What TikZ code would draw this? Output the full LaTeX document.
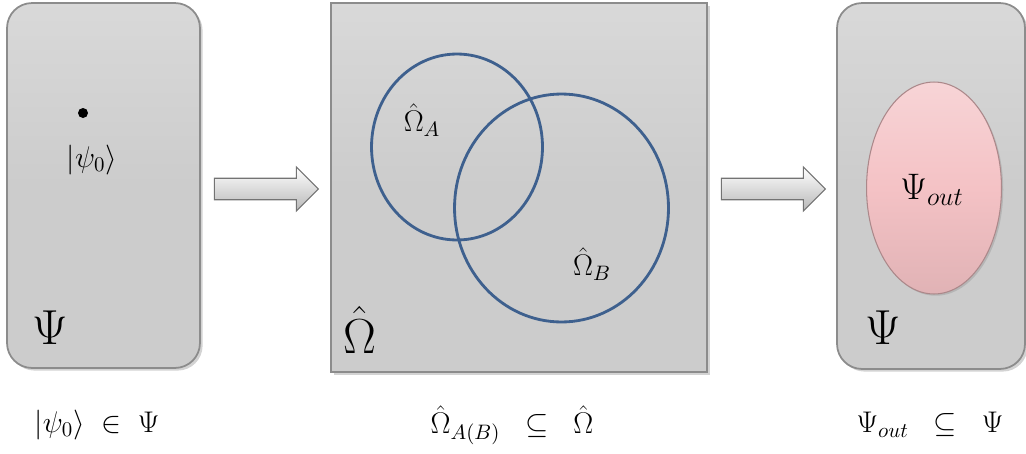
\documentclass[tikz,border=0pt]{standalone}
\usepackage{fix-cm}
\usepackage{amsmath,amssymb}
\definecolor{setblue}{RGB}{62,96,142}
\definecolor{pinkfill}{RGB}{244,194,197}
\definecolor{panelgray}{RGB}{204,204,204}
\usepackage{tikz}
\usetikzlibrary{
  shapes.geometric,
  shapes.arrows,
  shadows,
  positioning
}

\begin{document}
\begin{tikzpicture}[
  x=0.02cm, y=-0.02cm,
  panel/.style={rectangle, draw=black!45, line width=1pt, top color=panelgray!75, bottom color=panelgray, middle color=panelgray, drop shadow={opacity=0.35, shadow xshift=1.5pt, shadow yshift=-1.5pt}},
  roundpanel/.style={panel, rounded corners=0.5cm},
  subset/.style={ellipse, draw=setblue, line width=1.6pt},
  blob/.style={ellipse, draw=pinkfill!70!black, line width=0.6pt, top color=pinkfill!70, bottom color=pinkfill!92!black, middle color=pinkfill, drop shadow={opacity=0.3, shadow xshift=1pt, shadow yshift=-1pt}},
  flow/.style={single arrow, draw=black!55, line width=0.6pt, top color=white, bottom color=black!28, inner xsep=0pt, inner ysep=0.2cm, minimum height=2.08cm, minimum width=0.88cm, single arrow head extend=0.22cm},
  biglbl/.style={font=\fontsize{28}{30}\selectfont},
  lbl/.style={font=\fontsize{17}{19}\selectfont},
  eqlbl/.style={font=\fontsize{17}{19}\selectfont}
]
  \useasboundingbox (0,0) rectangle (1026,453);

  % input space
  \node[roundpanel, minimum width=3.86cm, minimum height=7.3cm] (psi) at (103.5,185.5) {};
  \node[circle, fill=black, inner sep=0pt, minimum size=0.2cm] (psi0dot) at (83,113) {};
  \node[lbl] (psi0) at (92,160) {$\lvert\psi_{0}\rangle$};
  \node[biglbl] (psilbl) at (50,328) {$\Psi$};

  % operator space
  \node[panel, minimum width=7.52cm, minimum height=7.38cm] (omega) at (519,187.5) {};
  \node[subset, minimum width=3.42cm, minimum height=3.72cm] (omegaA) at (457,147) {};
  \node[subset, minimum width=4.28cm, minimum height=4.56cm] (omegaB) at (561.5,208) {};
  \node[lbl] (omegaAlbl) at (422,120) {$\hat{\Omega}_{A}$};
  \node[lbl] (omegaBlbl) at (592,264) {$\hat{\Omega}_{B}$};
  \node[biglbl] (omegalbl) at (360,330) {$\hat{\Omega}$};

  % output space
  \node[roundpanel, minimum width=3.76cm, minimum height=7.32cm] (psiout) at (931,186) {};
  \node[blob, minimum width=2.7cm, minimum height=4.24cm] (outset) at (934,188) {};
  \node[font=\fontsize{21}{23}\selectfont] (outlbl) at (932,190) {$\Psi_{out}$};
  \node[biglbl] (psioutlbl) at (883,328) {$\Psi$};

  % block arrows
  \node[flow] (step1) at (261,189) {};
  \node[flow] (step2) at (768,189) {};

  % relations
  \node[eqlbl] (rel1) at (97,425) {$\lvert\psi_{0}\rangle\;\in\;\Psi$};
  \node[eqlbl] (rel2) at (512,425) {$\hat{\Omega}_{A(B)}\;\;\subseteq\;\;\hat{\Omega}$};
  \node[eqlbl] (rel3) at (930,425) {$\Psi_{out}\;\;\subseteq\;\;\Psi$};
\end{tikzpicture}
\end{document}
